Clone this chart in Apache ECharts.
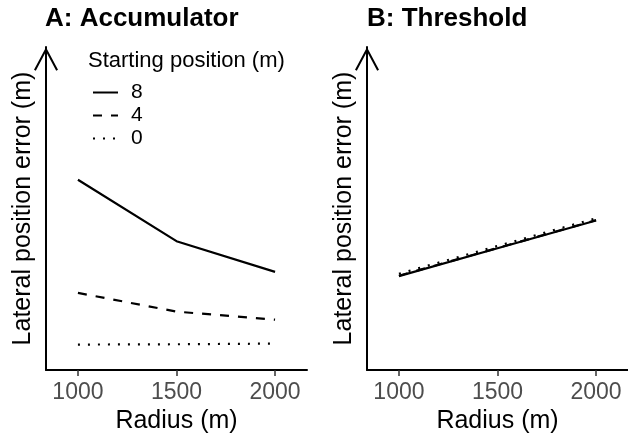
<!DOCTYPE html>
<html>
<head>
<meta charset="utf-8">
<script src="https://cdn.jsdelivr.net/npm/echarts@6/dist/echarts.min.js"></script>
<style>
  html, body { margin: 0; padding: 0; background: #fff; }
  #main { width: 628px; height: 439px; }
</style>
</head>
<body>
<div id="main"></div>
<script>
// radius values on the x axis (m)
const radius = [1000, 1500, 2000];
const tickValues = [1000, 1500, 2000];
const startNames = ["8", "4", "0"];

// A: Accumulator (y has no scale in the figure, arbitrary units)
const accum8 = [58.9, 39.9, 30.4];
const accum4 = [23.9, 18.1, 15.6];
const accum0 = [7.9, 8.0, 8.2];

// B: Threshold (all three nearly overlap)
const thresh8 = [29.1, 37.7, 46.3];
const thresh4 = [29.2, 37.8, 46.4];
const thresh0 = [29.8, 38.4, 47.0];

const font = "Liberation Sans, Arial, Helvetica, sans-serif";
const dashTypes = ["solid", [9, 9], [2, 8]];

// open chevron used as the y axis arrow head
const chevron = "path://M12,0 L24,22.5 L22.2,23.5 L12,4.2 L1.8,23.5 L0,22.5 Z";

let pair = (ys) => radius.map((r, i) => [r, ys[i]]);

let makeX = (gridIndex) => ({
  type: "value",
  gridIndex: gridIndex,
  min: 838,
  max: 2162,
  name: "Radius (m)",
  nameLocation: "middle",
  nameGap: 37,
  nameTextStyle: { fontFamily: font, fontSize: 25, color: "#000" },
  splitLine: { show: false },
  axisLine: { lineStyle: { color: "#000", width: 2 } },
  axisTick: {
    customValues: tickValues,
    length: 6,
    lineStyle: { color: "#333", width: 1.5 },
  },
  axisLabel: {
    customValues: tickValues,
    formatter: (v) => String(v),
    margin: 11,
    fontFamily: font,
    fontSize: 23,
    color: "#4d4d4d",
  },
});

let makeY = (gridIndex) => ({
  type: "value",
  gridIndex: gridIndex,
  min: 0,
  max: 100,
  name: "Lateral position error (m)",
  nameLocation: "middle",
  nameGap: 10,
  nameTextStyle: { fontFamily: font, fontSize: 25, color: "#000" },
  splitLine: { show: false },
  axisTick: { show: false },
  axisLabel: { show: false },
  axisLine: {
    show: true,
    symbol: ["none", chevron],
    symbolSize: [24, 24],
    symbolOffset: [0, -12],
    lineStyle: { color: "#000", width: 2 },
  },
});

let makeSeries = (name, ys, gridIndex, k) => ({
  name: name,
  type: "line",
  xAxisIndex: gridIndex,
  yAxisIndex: gridIndex,
  data: pair(ys),
  symbol: "none",
  silent: true,
  lineStyle: { color: "#000", width: 2.2, type: dashTypes[k] },
  itemStyle: { color: "#000" },
});

let chart = echarts.init(document.getElementById("main"));
let option = {
  animation: false,
  title: [
    {
      text: "A: Accumulator",
      left: 45,
      top: 6,
      padding: 0,
      textStyle: { fontFamily: font, fontSize: 26, fontWeight: "bold", color: "#000" },
    },
    {
      text: "B: Threshold",
      left: 367,
      top: 6,
      padding: 0,
      textStyle: { fontFamily: font, fontSize: 26, fontWeight: "bold", color: "#000" },
    },
    {
      text: "Starting position (m)",
      left: 88,
      top: 50,
      padding: 0,
      textStyle: { fontFamily: font, fontSize: 22, fontWeight: "normal", color: "#000" },
    },
  ],
  legend: {
    data: startNames,
    orient: "vertical",
    left: 92,
    top: 82,
    padding: 0,
    itemWidth: 25,
    itemHeight: 10,
    itemGap: 2,
    selectedMode: false,
    itemStyle: { opacity: 0 },
    textStyle: { fontFamily: font, fontSize: 21, color: "#000", padding: [0, 0, 0, 8] },
  },
  grid: [
    { left: 46, top: 47, width: 261, height: 326 },
    { left: 367, top: 47, width: 261, height: 326 },
  ],
  xAxis: [makeX(0), makeX(1)],
  yAxis: [makeY(0), makeY(1)],
  series: [
    makeSeries(startNames[0], accum8, 0, 0),
    makeSeries(startNames[1], accum4, 0, 1),
    makeSeries(startNames[2], accum0, 0, 2),
    makeSeries(startNames[0], thresh8, 1, 0),
    makeSeries(startNames[1], thresh4, 1, 1),
    makeSeries(startNames[2], thresh0, 1, 2),
  ],
};
chart.setOption(option);
</script>
</body>
</html>
